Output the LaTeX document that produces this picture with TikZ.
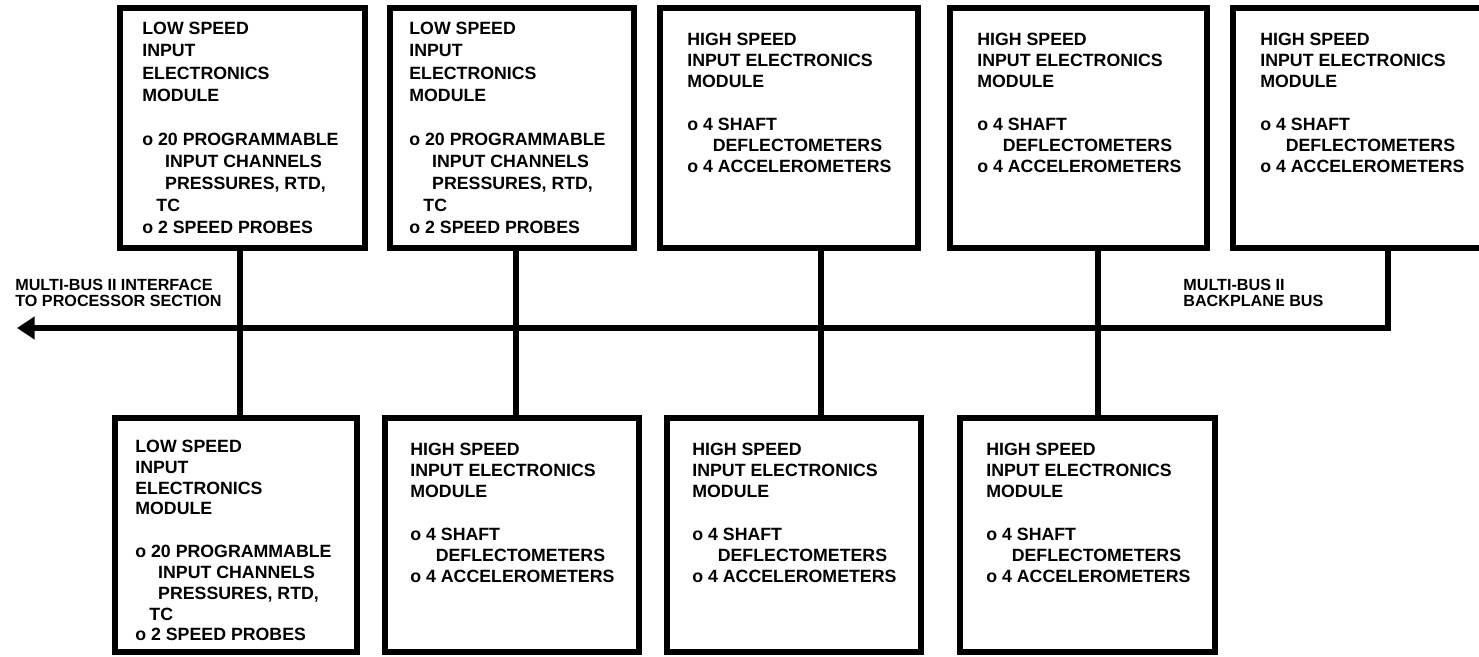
\documentclass[tikz,border=0pt]{standalone}
\usepackage{fontspec}
\setmainfont{Liberation Sans}
\usetikzlibrary{arrows.meta}
\newcommand{\lsbody}{LOW SPEED\\INPUT\\ELECTRONICS\\MODULE\\[\lsgap]o 20 PROGRAMMABLE\\\hspace*{13pt}INPUT CHANNELS\\\hspace*{13pt}PRESSURES, RTD,\\\hspace*{8pt}TC\\o 2 SPEED PROBES}
\newcommand{\hsbody}{HIGH SPEED\\INPUT ELECTRONICS\\MODULE\\[12pt]o 4 SHAFT\\\hspace*{14.5pt}DEFLECTOMETERS\\o 4 ACCELEROMETERS}
\newlength{\lsgap}
\begin{document}
\begin{tikzpicture}[x=0.02cm,y=-0.02cm,
  module/.style={draw, line width=3.2pt, rectangle, inner sep=0pt, outer sep=0pt},
  body/.style={anchor=north west, align=left, inner sep=0pt, font=\bfseries\fontsize{10.1}{12}\selectfont},
  wire/.style={line width=3.2pt, line join=miter},
  buslabel/.style={anchor=north west, align=left, inner sep=0pt, font=\bfseries\fontsize{9.2}{9.2}\selectfont}]
\useasboundingbox (0,0) rectangle (1479,656);
% top row
\node[module, minimum width=245*0.02cm, minimum height=240*0.02cm] (t1) at (242.5,128) {};
\node[module, minimum width=244*0.02cm, minimum height=240*0.02cm] (t2) at (512,128) {};
\node[module, minimum width=258*0.02cm, minimum height=240*0.02cm] (t3) at (789,128) {};
\node[module, minimum width=257*0.02cm, minimum height=240*0.02cm] (t4) at (1078.5,128) {};
\node[module, minimum width=267*0.02cm, minimum height=240*0.02cm] (t5) at (1366.5,128) {};
% bottom row
\node[module, minimum width=242*0.02cm, minimum height=234*0.02cm] (b1) at (236,535) {};
\node[module, minimum width=254*0.02cm, minimum height=234*0.02cm] (b2) at (512,535) {};
\node[module, minimum width=254*0.02cm, minimum height=234*0.02cm] (b3) at (794,535) {};
\node[module, minimum width=255*0.02cm, minimum height=234*0.02cm] (b4) at (1087.5,535) {};
% texts
\setlength{\lsgap}{12.6pt}
\node[body, font=\bfseries\fontsize{10.1}{12.6}\selectfont] (t1txt) at (142,22) {\lsbody};
\node[body, font=\bfseries\fontsize{10.1}{12.6}\selectfont] (t2txt) at (409,22) {\lsbody};
\node[body] (t3txt) at (687,33) {\hsbody};
\node[body] (t4txt) at (977,33) {\hsbody};
\node[body] (t5txt) at (1260,33) {\hsbody};
\node[body, font=\bfseries\fontsize{10.1}{11.8}\selectfont] (b1txt) at (135,440) {\setlength{\lsgap}{11.8pt}\lsbody};
\node[body] (b2txt) at (410,443) {\hsbody};
\node[body] (b3txt) at (692,443) {\hsbody};
\node[body] (b4txt) at (986,443) {\hsbody};
% bus
\coordinate (j1) at (240,328);
\coordinate (j2) at (516,328);
\coordinate (j3) at (821,328);
\coordinate (j4) at (1098,328);
\coordinate (j5) at (1388,328);
\coordinate (busend) at (17,328);
\draw[wire, -{Triangle[length=10pt,width=12.5pt]}] (t5.south -| j5) |- (busend);
\draw[wire] (t1.south -| j1) -- (b1.north -| j1);
\draw[wire] (t2.south -| j2) -- (b2.north -| j2);
\draw[wire] (t3.south -| j3) -- (b3.north -| j3);
\draw[wire] (t4.south -| j4) -- (b4.north -| j4);
% labels
\node[buslabel] (lbl1) at (15,279) {MULTI-BUS II INTERFACE\\TO PROCESSOR SECTION};
\node[buslabel] (lbl2) at (1183,279) {MULTI-BUS II\\BACKPLANE BUS};
\end{tikzpicture}
\end{document}
